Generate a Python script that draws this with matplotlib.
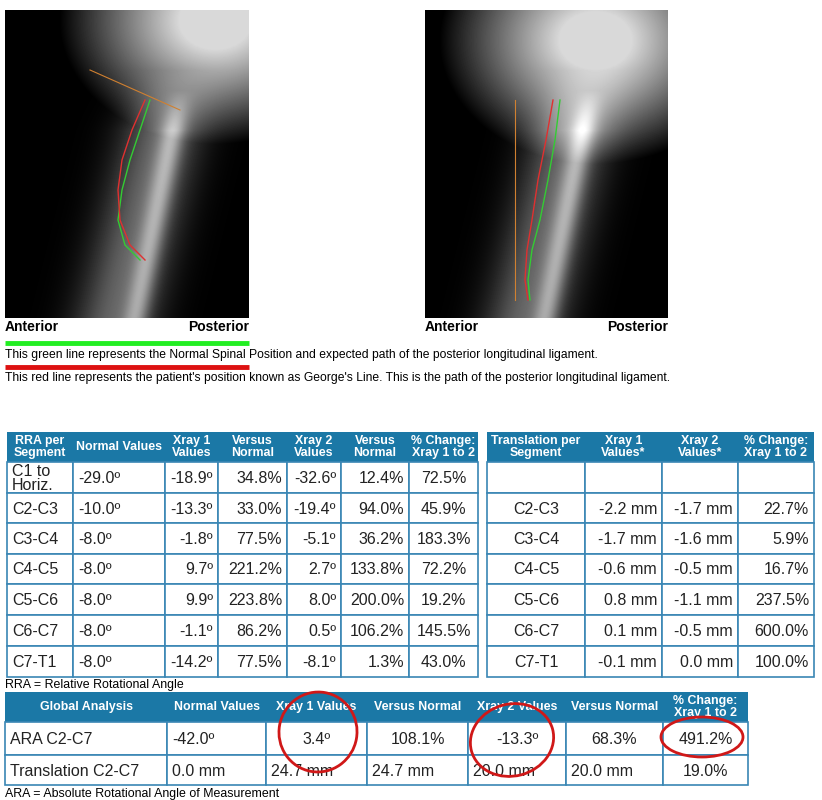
import numpy as np
import matplotlib
matplotlib.use("Agg")
import matplotlib.pyplot as plt
from matplotlib.patches import Rectangle, Ellipse

plt.rcParams['font.family'] = ['Liberation Sans', 'DejaVu Sans']

# ---------------- data ----------------
rra_header = ["RRA per\nSegment", "Normal Values", "Xray 1\nValues", "Versus\nNormal",
              "Xray 2\nValues", "Versus\nNormal", "% Change:\nXray 1 to 2"]
rra_segments = ["C1 to\nHoriz.", "C2-C3", "C3-C4", "C4-C5", "C5-C6", "C6-C7", "C7-T1"]
rra_normal = ["-29.0º", "-10.0º", "-8.0º", "-8.0º", "-8.0º", "-8.0º", "-8.0º"]
rra_xray1 = ["-18.9º", "-13.3º", "-1.8º", "9.7º", "9.9º", "-1.1º", "-14.2º"]
rra_vs1 = ["34.8%", "33.0%", "77.5%", "221.2%", "223.8%", "86.2%", "77.5%"]
rra_xray2 = ["-32.6º", "-19.4º", "-5.1º", "2.7º", "8.0º", "0.5º", "-8.1º"]
rra_vs2 = ["12.4%", "94.0%", "36.2%", "133.8%", "200.0%", "106.2%", "1.3%"]
rra_change = ["72.5%", "45.9%", "183.3%", "72.2%", "19.2%", "145.5%", "43.0%"]

tr_header = ["Translation per\nSegment", "Xray 1\nValues*", "Xray 2\nValues*", "% Change:\nXray 1 to 2"]
tr_segments = ["", "C2-C3", "C3-C4", "C4-C5", "C5-C6", "C6-C7", "C7-T1"]
tr_xray1 = ["", "-2.2 mm", "-1.7 mm", "-0.6 mm", "0.8 mm", "0.1 mm", "-0.1 mm"]
tr_xray2 = ["", "-1.7 mm", "-1.6 mm", "-0.5 mm", "-1.1 mm", "-0.5 mm", "0.0 mm"]
tr_change = ["", "22.7%", "5.9%", "16.7%", "237.5%", "600.0%", "100.0%"]

gl_header = ["Global Analysis", "Normal Values", "Xray 1 Values", "Versus Normal",
             "Xray 2 Values", "Versus Normal", "% Change:\nXray 1 to 2"]
gl_rows = [["ARA C2-C7", "-42.0º", "3.4º", "108.1%", "-13.3º", "68.3%", "491.2%"],
           ["Translation C2-C7", "0.0 mm", "24.7 mm", "24.7 mm", "20.0 mm", "20.0 mm", "19.0%"]]

HEAD = "#1b78a6"
EDGE = "#3a86b4"

fig = plt.figure(figsize=(8.22, 8.0), dpi=100)
ax = fig.add_axes([0, 0, 1, 1])
ax.set_xlim(0, 822)
ax.set_ylim(800, 0)
ax.axis("off")

# ---------------- x-ray images (decorative) ----------------
def xray(x0, x1, y0, y1, skull_cx, skull_cy, neck_x):
    w, h = int(x1 - x0), int(y1 - y0)
    yy, xx = np.mgrid[0:h, 0:w]
    img = np.zeros((h, w))
    r = np.sqrt(((xx - skull_cx) / 120.0) ** 2 + ((yy - skull_cy) / 95.0) ** 2)
    img += 0.85 * np.clip(1.3 - r, 0, 1)
    neck = np.exp(-((xx - (neck_x - 0.25 * (yy - h))) / 40.0) ** 2) * np.clip((yy - 60) / 60.0, 0, 1)
    img += 0.4 * neck
    spine = np.exp(-((xx - (neck_x + 20 - 0.2 * (yy - h))) / 12.0) ** 2) * np.clip((yy - 80) / 40.0, 0, 1)
    img += 0.35 * spine
    img = np.clip(img, 0, 1)
    ax.imshow(img, cmap="gray", extent=(x0, x1, y1, y0), vmin=0, vmax=1, zorder=1)

xray(5, 249, 10, 318, 210, 10, 110)
xray(425, 668, 10, 318, 170, 30, 100)
ax.set_xlim(0, 822); ax.set_ylim(800, 0)

# spine lines
ax.plot([150, 140, 130, 122, 118, 125, 140], [100, 130, 160, 190, 220, 245, 260], color="#33cc33", lw=1)
ax.plot([145, 132, 122, 118, 120, 130, 145], [100, 130, 160, 190, 220, 245, 260], color="#e03030", lw=1)
ax.plot([560, 555, 548, 540, 532, 528, 530], [100, 140, 180, 220, 250, 280, 300], color="#33cc33", lw=1)
ax.plot([553, 546, 538, 532, 527, 525, 528], [100, 140, 180, 220, 250, 280, 300], color="#e03030", lw=1)
ax.plot([90, 180], [70, 110], color="#d08030", lw=0.8)
ax.plot([515, 515], [100, 300], color="#d08030", lw=0.8)

for xl, xr in [(5, 249), (425, 668)]:
    ax.text(xl, 327, "Anterior", fontsize=10, fontweight="bold", va="center", ha="left")
    ax.text(xr, 327, "Posterior", fontsize=10, fontweight="bold", va="center", ha="right")

ax.plot([5, 249], [343, 343], color="#22ee22", lw=3.5, solid_capstyle="butt")
ax.text(5, 355, "This green line represents the Normal Spinal Position and expected path of the posterior longitudinal ligament.",
        fontsize=8.7, va="center")
ax.plot([5, 249], [367, 367], color="#dd1111", lw=3.5, solid_capstyle="butt")
ax.text(5, 378, "This red line represents the patient's position known as George's Line. This is the path of the posterior longitudinal ligament.",
        fontsize=8.7, va="center")

# ---------------- table helper ----------------
def table(cols, ytop, yhead, rows_y, header, body, aligns, hfs=8.9, bfs=11.5):
    ax.add_patch(Rectangle((cols[0], ytop), cols[-1] - cols[0], yhead - ytop, fc=HEAD, ec="none", zorder=2))
    for i, htxt in enumerate(header):
        ax.text((cols[i] + cols[i + 1]) / 2, (ytop + yhead) / 2, htxt, color="white", fontsize=hfs,
                fontweight="bold", ha="center", va="center", linespacing=1.0, zorder=3)
    ys = [yhead] + rows_y
    for r, row in enumerate(body):
        y0, y1 = ys[r], ys[r + 1]
        for c, txt in enumerate(row):
            ax.add_patch(Rectangle((cols[c], y0), cols[c + 1] - cols[c], y1 - y0, fc="white", ec=EDGE, lw=1.2, zorder=2))
            a = aligns[r][c] if isinstance(aligns[0], list) else aligns[c]
            if a == "left":
                x = cols[c] + 5
            elif a == "right":
                x = cols[c + 1] - 5
            else:
                x = (cols[c] + cols[c + 1]) / 2
            ax.text(x, (y0 + y1) / 2 + 1, txt, fontsize=bfs, ha=a, va="center", linespacing=0.85,
                    color="#222222", zorder=3)

rows_y = [493, 523, 554, 584, 615, 646, 677]
rra_body = list(zip(rra_segments, rra_normal, rra_xray1, rra_vs1, rra_xray2, rra_vs2, rra_change))
table([7, 73, 165, 218, 287, 341, 409, 478], 432, 462, rows_y, rra_header, rra_body,
      ["left", "left", "right", "right", "right", "right", "center"])

tr_body = list(zip(tr_segments, tr_xray1, tr_xray2, tr_change))
table([487, 585, 662, 738, 814], 432, 462, rows_y, tr_header, tr_body,
      ["center", "right", "right", "right"])

ax.text(5, 685, "RRA = Relative Rotational Angle", fontsize=8.9, va="center")

gl_align = [["left", "left", "center", "center", "center", "center", "center"],
            ["left", "left", "left", "left", "left", "left", "center"]]
table([5, 167, 266, 367, 468, 566, 663, 748], 692, 722, [755, 785], gl_header, gl_rows, gl_align)

ax.text(5, 794, "ARA = Absolute Rotational Angle of Measurement", fontsize=8.9, va="center")

# red hand-drawn circles
for cx, cy, w, h, ang in [(318, 732, 78, 80, 10), (512, 740, 84, 72, -15), (702, 737, 82, 40, 0)]:
    ax.add_patch(Ellipse((cx, cy), w, h, angle=ang, fill=False, ec="#d01818", lw=2, zorder=5))

fig.savefig("out.png", dpi=100)
